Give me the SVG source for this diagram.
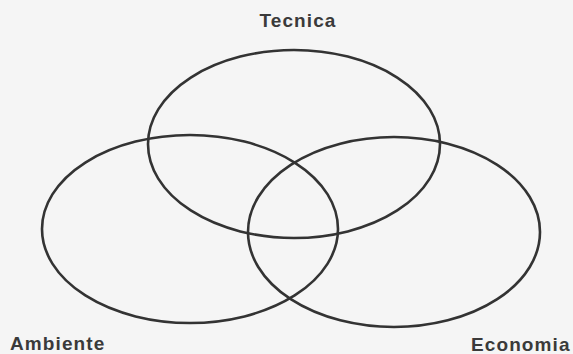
<svg xmlns="http://www.w3.org/2000/svg" width="573" height="354" viewBox="0 0 573 354">
<style>
.set{fill:none;stroke:#333;stroke-width:2.6}
.lbl{font-family:"Liberation Sans",Arial,sans-serif;font-weight:bold;font-size:19px;fill:#3a3a3a;letter-spacing:1.1px}
</style>
<rect width="573" height="354" fill="#f5f5f5"/>
<g id="tecnica">
<ellipse class="set" cx="294" cy="144" rx="146" ry="94"/>
<text class="lbl" x="298" y="27" text-anchor="middle">Tecnica</text>
</g>
<g id="ambiente">
<ellipse class="set" cx="190" cy="229" rx="148" ry="94"/>
<text class="lbl" x="10" y="350">Ambiente</text>
</g>
<g id="economia">
<ellipse class="set" cx="394" cy="232" rx="146" ry="95"/>
<text class="lbl" x="471" y="351">Economia</text>
</g>
<g id="connectors"/>
</svg>
